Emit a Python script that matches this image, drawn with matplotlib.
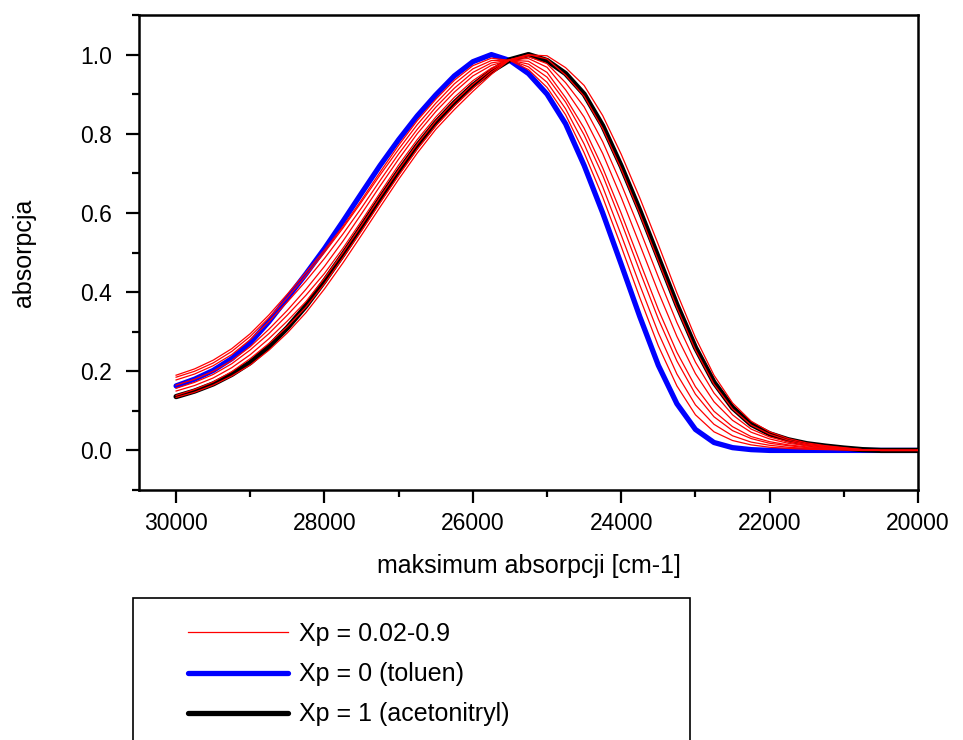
import matplotlib
matplotlib.use("Agg")
import matplotlib.pyplot as plt
from matplotlib.ticker import MultipleLocator
from matplotlib.patches import Rectangle

plt.rcParams['font.family'] = ['Liberation Sans', 'DejaVu Sans']

# wavenumber grid [cm-1]
wn = [30000, 29750, 29500, 29250, 29000, 28750, 28500, 28250, 28000, 27750,
      27500, 27250, 27000, 26750, 26500, 26250, 26000, 25750, 25500, 25250,
      25000, 24750, 24500, 24250, 24000, 23750, 23500, 23250, 23000, 22750,
      22500, 22250, 22000, 21750, 21500, 21250, 21000, 20750, 20500, 20250, 20000]

# Xp = 0 (toluen)
toluen = [.163, .180, .202, .232, .272, .325, .385, .446, .510, .579,
          .650, .720, .785, .845, .898, .946, .982, 1.000, .985, .952,
          .900, .825, .720, .600, .470, .338, .215, .118, .053, .020,
          .007, .002, 0, 0, 0, 0, 0, 0, 0, 0, 0]

# Xp = 1 (acetonitryl)
acetonitryl = [.136, .150, .168, .192, .222, .262, .310, .365, .428, .495,
               .565, .636, .705, .770, .828, .878, .922, .958, .987, 1.000,
               .985, .952, .900, .820, .718, .606, .487, .368, .260, .172,
               .108, .066, .042, .027, .017, .011, .006, .002, 0, 0, 0]

# Xp = 0.02 - 0.9 (intermediate mixtures)
mix_1 = [.190, .206, .228, .257, .295, .342, .395, .450, .506, .566,
         .633, .703, .771, .833, .887, .935, .972, .991, .985, .962,
         .917, .848, .752, .640, .515, .386, .264, .163, .090, .047,
         .025, .014, .008, .005, .003, .002, .001, 0, 0, 0, 0]
mix_2 = [.185, .200, .221, .250, .288, .335, .386, .441, .500, .562,
         .628, .696, .761, .823, .877, .926, .964, .985, .986, .969,
         .930, .863, .774, .666, .544, .418, .297, .193, .115, .066,
         .037, .021, .013, .008, .005, .003, .002, .001, 0, 0, 0]
mix_3 = [.178, .193, .214, .242, .280, .325, .375, .428, .485, .547,
         .613, .682, .749, .811, .867, .915, .955, .979, .986, .976,
         .943, .880, .797, .695, .577, .453, .332, .226, .142, .085,
         .050, .030, .018, .012, .007, .005, .003, .001, 0, 0, 0]
mix_4 = [.165, .180, .200, .227, .262, .306, .354, .407, .465, .529,
         .598, .668, .736, .800, .856, .905, .946, .973, .986, .983,
         .955, .891, .814, .714, .599, .477, .356, .248, .161, .099,
         .060, .035, .022, .014, .009, .006, .003, .001, 0, 0, 0]
mix_5 = [.157, .172, .192, .219, .254, .295, .342, .392, .447, .511,
         .580, .651, .721, .785, .842, .892, .934, .966, .987, .990,
         .968, .911, .842, .750, .639, .520, .400, .288, .194, .123,
         .076, .046, .029, .018, .012, .007, .004, .001, 0, 0, 0]
mix_6 = [.150, .164, .183, .209, .242, .282, .327, .376, .435, .500,
         .569, .640, .709, .774, .832, .881, .925, .962, .987, .995,
         .977, .929, .868, .780, .673, .558, .438, .323, .223, .145,
         .090, .054, .034, .022, .014, .009, .005, .002, 0, 0, 0]
mix_7 = [.139, .154, .173, .199, .232, .270, .313, .362, .421, .487,
         .555, .626, .695, .761, .820, .870, .915, .956, .987, 1.000,
         .989, .948, .895, .813, .711, .598, .479, .361, .254, .167,
         .105, .064, .041, .026, .016, .011, .006, .002, 0, 0, 0]
mix_8 = [.134, .147, .165, .188, .216, .253, .297, .348, .408, .474,
         .544, .615, .685, .751, .811, .861, .907, .950, .987, .999,
         .997, .967, .922, .846, .748, .638, .520, .398, .285, .190,
         .120, .074, .047, .030, .019, .012, .007, .002, 0, 0, 0]

mixes = [mix_1, mix_2, mix_3, mix_4, mix_5, mix_6, mix_7, mix_8]

labels = ['Xp = 0.02-0.9', 'Xp = 0 (toluen)', 'Xp = 1 (acetonitryl)']
x_ticks_major = [30000, 28000, 26000, 24000, 22000, 20000]

fig = plt.figure(figsize=(9.63, 7.40), dpi=100)
ax = fig.add_axes([139/963, 1-490/740, 779/963, 475/740])

h_blue, = ax.plot(wn, toluen, color='#0000ff', lw=3.8, zorder=1,
                  solid_capstyle='round', solid_joinstyle='round')
h_black, = ax.plot(wn, acetonitryl, color='black', lw=3.8, zorder=2,
                   solid_capstyle='round', solid_joinstyle='round')
h_red = None
for m in mixes:
    h, = ax.plot(wn, m, color='#ff0000', lw=0.9, zorder=3)
    if h_red is None:
        h_red = h

ax.set_xlim(30500, 20000)
ax.set_ylim(-0.1, 1.1)
ax.set_xticks(x_ticks_major)
ax.xaxis.set_minor_locator(MultipleLocator(1000))
ax.yaxis.set_major_locator(MultipleLocator(0.2))
ax.set_yticks([-0.1, 0.1, 0.3, 0.5, 0.7, 0.9, 1.1], minor=True)
ax.tick_params(which='major', direction='out', length=9.5, width=1.6,
               labelsize=16.5)
ax.tick_params(axis='x', which='major', pad=6)
ax.tick_params(axis='y', which='major', pad=10)
ax.tick_params(which='minor', direction='out', length=5, width=1.6)
ax.tick_params(top=False, right=False, which='both')
for s in ax.spines.values():
    s.set_linewidth(1.8)

ax.set_xlabel('maksimum absorpcji [cm-1]', fontsize=18, labelpad=14)
ax.set_ylabel('absorpcja', fontsize=18, labelpad=32)

# legend frame (extends past the bottom edge, as in the original)
fig.patches.append(Rectangle((133/963, -0.05), (690-133)/963, (1-598/740)+0.05,
                             transform=fig.transFigure, fill=False,
                             edgecolor='black', lw=1.2))
fig.legend([h_red, h_blue, h_black], labels, loc='upper left',
           bbox_to_anchor=(188/963, 1-622/740), bbox_transform=fig.transFigure,
           frameon=False, fontsize=18, handlelength=4.0, handletextpad=0.45,
           borderpad=0, borderaxespad=0, labelspacing=0.65)

fig.savefig('out.png', dpi=100)
